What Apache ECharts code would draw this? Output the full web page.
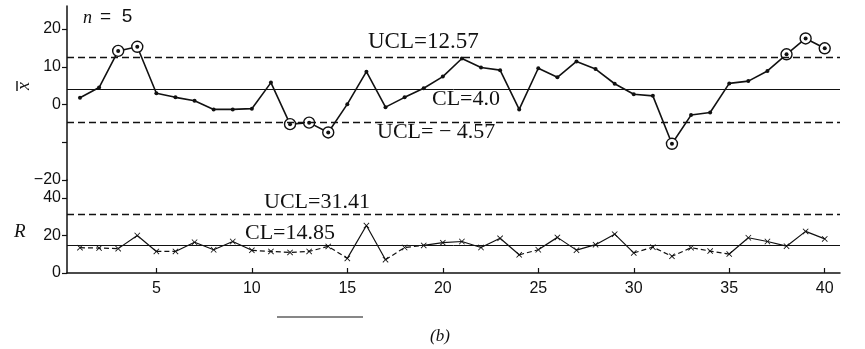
<!DOCTYPE html>
<html>
<head>
<meta charset="utf-8">
<script src="https://cdn.jsdelivr.net/npm/echarts@6/dist/echarts.min.js"></script>
<style>
  html, body { margin: 0; padding: 0; background: #fff; }
  #main { width: 865px; height: 349px; }
</style>
</head>
<body>
<div id="main"></div>
<script>
// 样本号 1..40
const samples = [1,2,3,4,5,6,7,8,9,10,11,12,13,14,15,16,17,18,19,20,21,22,23,24,25,26,27,28,29,30,31,32,33,34,35,36,37,38,39,40];
// 均值图 x̄
const xbarValues = [1.8, 4.5, 14.2, 15.3, 3.0, 1.9, 1.0, -1.3, -1.3, -1.1, 5.8, -5.2, -4.8, -7.4, 0.1, 8.7, -0.7, 1.9, 4.3, 7.4,
  12.2, 9.8, 9.1, -1.3, 9.6, 7.2, 11.4, 9.4, 5.5, 2.7, 2.3, -10.4, -2.8, -2.1, 5.6, 6.2, 8.9, 13.3, 17.5, 14.9];
// 极差图 R
const rValues = [13.5, 13.3, 13.0, 20.0, 11.5, 11.5, 16.4, 12.4, 16.8, 12.1, 11.5, 11.0, 11.5, 14.2, 7.8, 25.3, 7.1, 13.6, 14.7, 16.2,
  16.8, 13.6, 18.5, 9.7, 12.4, 19.0, 12.2, 15.1, 20.7, 10.7, 13.8, 8.9, 13.5, 11.7, 10.1, 18.8, 16.8, 14.3, 22.2, 18.2];
// 控制限
const xbarLimits = [12.57, 4.0, -4.57];   // UCL, CL, LCL
const rLimits = [31.41, 14.85];           // UCL, CL
// 刻度
const xTicks = [5, 10, 15, 20, 25, 30, 35, 40];
const xbarTicks = [-20, -10, 0, 10, 20];
const xbarTickLabels = [-20, 0, 10, 20];
const rTicks = [0, 20, 40];

const INK = '#111';
const serif = 'Liberation Serif';
const sans = 'Liberation Sans';

// 超出控制限的点画圈
const outPoints = samples
  .map((s, i) => [s, xbarValues[i]])
  .filter(p => p[1] > xbarLimits[0] || p[1] < xbarLimits[2]);

// R 图：两点都在中心线以下的线段画成虚线，其余实线
function splitSegments(wantDashed) {
  const out = [];
  let lastX = null;
  for (let i = 0; i < rValues.length - 1; i++) {
    const dashed = rValues[i] < rLimits[1] && rValues[i + 1] < rLimits[1];
    if (dashed !== wantDashed) continue;
    if (lastX !== samples[i]) {
      if (out.length) out.push([samples[i] - 0.5, '-']);
      out.push([samples[i], rValues[i]]);
    }
    out.push([samples[i + 1], rValues[i + 1]]);
    lastX = samples[i + 1];
  }
  return out;
}

const crossSymbol = 'path://M0,1L1,0L5,4L9,0L10,1L6,5L10,9L9,10L5,6L1,10L0,9L4,5Z';

const chart = echarts.init(document.getElementById('main'), null, { renderer: 'canvas' });

const option = {
  backgroundColor: '#fff',
  animation: false,
  grid: [
    { left: 67, right: 25, top: 6, height: 174 },
    { left: 67, right: 25, top: 180, height: 93 }
  ],
  xAxis: [
    { gridIndex: 0, type: 'value', min: 0.32, max: 40.8, show: false },
    {
      gridIndex: 1, type: 'value', min: 0.32, max: 40.8,
      axisLine: { lineStyle: { color: INK, width: 1.5 } },
      axisTick: { inside: true, length: 5, customValues: xTicks, lineStyle: { color: INK, width: 1.2 } },
      axisLabel: { customValues: xTicks, color: INK, fontFamily: sans, fontSize: 16, margin: 8 },
      splitLine: { show: false }
    }
  ],
  yAxis: [
    {
      gridIndex: 0, type: 'value', min: -20, max: 26.1,
      axisLine: { show: true, onZero: false, lineStyle: { color: INK, width: 1.5 } },
      axisTick: { show: true, length: 5, customValues: xbarTicks, lineStyle: { color: INK, width: 1.2 } },
      axisLabel: {
        customValues: xbarTickLabels, color: INK, fontFamily: sans, fontSize: 16, margin: 6,
        formatter: v => (v < 0 ? '\u2212' + Math.abs(v) : String(v))
      },
      splitLine: { show: false }
    },
    {
      gridIndex: 1, type: 'value', min: 0, max: 49.6,
      axisLine: { show: true, onZero: false, lineStyle: { color: INK, width: 1.5 } },
      axisTick: { show: true, length: 5, customValues: rTicks, lineStyle: { color: INK, width: 1.2 } },
      axisLabel: { customValues: rTicks, color: INK, fontFamily: sans, fontSize: 16, margin: 6 },
      splitLine: { show: false }
    }
  ],
  series: [
    {
      name: 'xbar', type: 'line', xAxisIndex: 0, yAxisIndex: 0,
      data: samples.map((s, i) => [s, xbarValues[i]]),
      symbol: 'circle', symbolSize: 4,
      itemStyle: { color: INK },
      lineStyle: { color: INK, width: 1.6 },
      markLine: {
        silent: true, symbol: 'none', label: { show: false },
        data: [
          { yAxis: xbarLimits[0], lineStyle: { type: [7, 4], width: 1.3, color: INK } },
          { yAxis: xbarLimits[1], lineStyle: { type: 'solid', width: 1, color: INK } },
          { yAxis: xbarLimits[2], lineStyle: { type: [7, 4], width: 1.3, color: INK } }
        ]
      }
    },
    {
      // 圈
      name: 'out', type: 'scatter', xAxisIndex: 0, yAxisIndex: 0,
      data: outPoints, symbol: 'circle', symbolSize: 11,
      itemStyle: { color: '#fff', borderColor: INK, borderWidth: 1.4, opacity: 1 }, z: 3
    },
    {
      // 圈内的点
      name: 'out-dot', type: 'scatter', xAxisIndex: 0, yAxisIndex: 0,
      data: outPoints, symbol: 'circle', symbolSize: 4,
      itemStyle: { color: INK, opacity: 1 }, z: 4
    },
    {
      name: 'r-solid', type: 'line', xAxisIndex: 1, yAxisIndex: 1,
      data: splitSegments(false), symbol: 'none', connectNulls: false,
      lineStyle: { color: INK, width: 1.2 },
      markLine: {
        silent: true, symbol: 'none', label: { show: false },
        data: [
          { yAxis: rLimits[0], lineStyle: { type: [7, 4], width: 1.3, color: INK } },
          { yAxis: rLimits[1], lineStyle: { type: 'solid', width: 1, color: INK } }
        ]
      }
    },
    {
      name: 'r-dashed', type: 'line', xAxisIndex: 1, yAxisIndex: 1,
      data: splitSegments(true), symbol: 'none', connectNulls: false,
      lineStyle: { color: INK, width: 1.2, type: [5, 3] }
    },
    {
      name: 'r-marks', type: 'scatter', xAxisIndex: 1, yAxisIndex: 1,
      data: samples.map((s, i) => [s, rValues[i]]),
      symbol: crossSymbol, symbolSize: 6, itemStyle: { color: INK, opacity: 1 }
    }
  ],
  graphic: [
    // 注释文字
    { type: 'text', left: 83, top: 9, style: { text: 'n', font: 'italic 18px ' + serif, fill: INK } },
    { type: 'text', left: 100, top: 7, style: { text: '=  5', font: '19px ' + sans, fill: INK } },
    { type: 'text', x: 24, y: 86, rotation: Math.PI / 2, style: { text: 'x', font: 'italic 18px ' + serif, fill: INK, align: 'center', verticalAlign: 'middle' } },
    { type: 'line', shape: { x1: 17, y1: 81, x2: 17, y2: 91 }, style: { stroke: INK, lineWidth: 1.4 } },
    { type: 'text', left: 14, top: 222, style: { text: 'R', font: 'italic 19px ' + serif, fill: INK } },
    { type: 'text', left: 368, top: 30, style: { text: 'UCL=' + xbarLimits[0], font: '23px ' + serif, fill: INK } },
    { type: 'text', left: 432, top: 88, style: { text: 'CL=' + xbarLimits[1].toFixed(1), font: '22px ' + serif, fill: INK } },
    { type: 'text', left: 377, top: 121, style: { text: 'UCL= \u2212 ' + Math.abs(xbarLimits[2]), font: '22px ' + serif, fill: INK } },
    { type: 'text', left: 264, top: 191, style: { text: 'UCL=' + rLimits[0], font: '22px ' + serif, fill: INK } },
    { type: 'text', left: 245, top: 222, style: { text: 'CL=' + rLimits[1], font: '22px ' + serif, fill: INK } },
    // 底部短线与 (b)
    { type: 'line', shape: { x1: 277, y1: 317, x2: 363, y2: 317 }, style: { stroke: INK, lineWidth: 1.2 } },
    { type: 'text', left: 430, top: 328, style: { text: '(b)', font: 'italic 17px ' + serif, fill: INK } }
  ]
};

chart.setOption(option);
</script>
</body>
</html>
